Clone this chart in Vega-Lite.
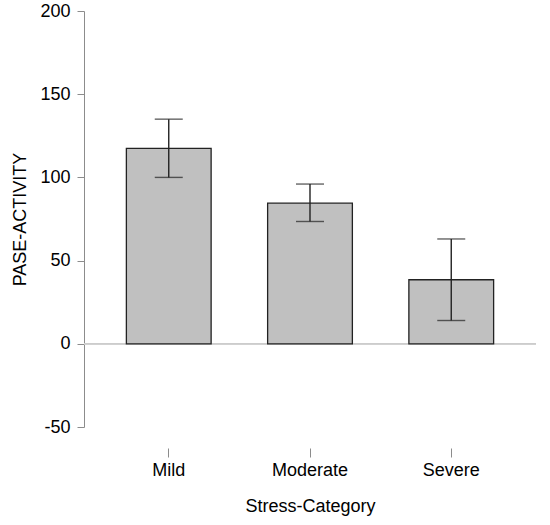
{
  "$schema": "https://vega.github.io/schema/vega-lite/v6.json",
  "autosize": "none",
  "width": 452,
  "height": 416,
  "padding": {"left": 84, "top": 11, "right": 14, "bottom": 98},
  "background": "white",
  "config": {
    "view": {"stroke": null},
    "font": "Liberation Sans",
    "axis": {
      "labelFont": "Liberation Sans",
      "titleFont": "Liberation Sans",
      "labelFontSize": 18,
      "titleFontSize": 18,
      "titleFontWeight": "normal",
      "labelColor": "#000000",
      "titleColor": "#000000",
      "domainColor": "#8c8c8c",
      "tickColor": "#8c8c8c",
      "grid": false
    }
  },
  "data": {
    "values": [
      {"category": "Mild", "mean": 117.5, "lo": 100, "hi": 135},
      {"category": "Moderate", "mean": 84.5, "lo": 73.5, "hi": 96},
      {"category": "Severe", "mean": 38.5, "lo": 14, "hi": 63}
    ]
  },
  "encoding": {
    "x": {
      "field": "category",
      "type": "nominal",
      "title": "Stress-Category",
      "scale": {"paddingInner": 0.4, "paddingOuter": 0.3},
      "axis": {
        "labelAngle": 0,
        "domain": false,
        "offset": 21,
        "tickSize": 9,
        "labelPadding": 4,
        "titlePadding": 18
      }
    }
  },
  "layer": [
    {
      "mark": {"type": "rule", "color": "#cccccc", "strokeWidth": 1.5},
      "encoding": {"x": null, "y": {"datum": 0, "type": "quantitative"}}
    },
    {
      "mark": {"type": "bar", "fill": "#c0c0c0", "stroke": "#222222", "strokeWidth": 1.3},
      "encoding": {
        "y": {
          "field": "mean",
          "type": "quantitative",
          "title": "PASE-ACTIVITY",
          "scale": {"domain": [-50, 200], "nice": false},
          "axis": {
            "values": [-50, 0, 50, 100, 150, 200],
            "labelExpr": "'' + datum.value",
            "tickSize": 7,
            "labelPadding": 7,
            "titlePadding": 10
          }
        }
      }
    },
    {
      "mark": {"type": "rule", "color": "#222222", "strokeWidth": 1.4},
      "encoding": {
        "y": {"field": "lo", "type": "quantitative"},
        "y2": {"field": "hi"}
      }
    },
    {
      "mark": {"type": "tick", "color": "#222222", "size": 28, "thickness": 1.4},
      "encoding": {"y": {"field": "lo", "type": "quantitative"}}
    },
    {
      "mark": {"type": "tick", "color": "#222222", "size": 28, "thickness": 1.4},
      "encoding": {"y": {"field": "hi", "type": "quantitative"}}
    }
  ]
}
